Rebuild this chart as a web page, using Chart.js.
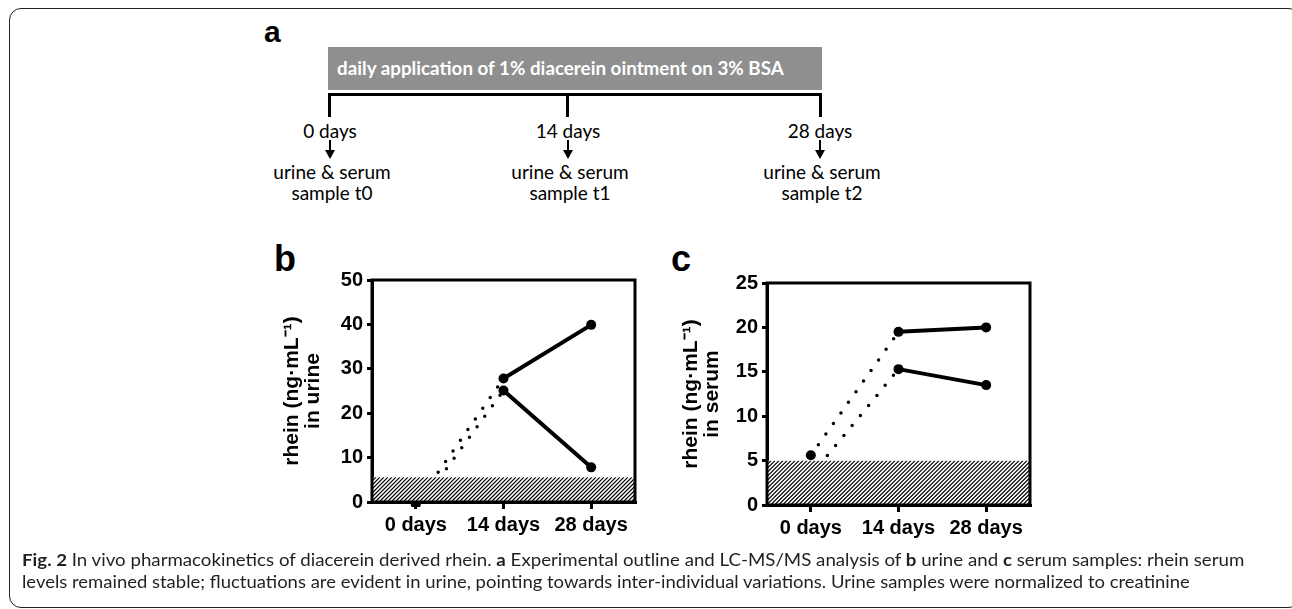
<!DOCTYPE html>
<html>
<head>
<meta charset="utf-8">
<script src="https://cdn.jsdelivr.net/npm/chart.js@4/dist/chart.umd.min.js"></script>
<style>
	body { margin: 0; width: 1292px; height: 609px; background: #fff; position: relative; overflow: hidden; font-family: Lato, "Open Sans", sans-serif; color: #000; }
	.abs { position: absolute; white-space: nowrap; }
	#frame { left: 9px; top: 8px; width: 1292px; height: 600px; border: 1.5px solid #222; border-radius: 12px; box-sizing: border-box; }
	.letter { font-family: "Liberation Sans", Arial, sans-serif; font-weight: bold; line-height: 1; }
	#bar { left: 328px; top: 47px; width: 494px; height: 43px; background: #8f8f8f; }
	#barText { left: 337px; top: 59px; color: #fff; font-weight: bold; font-size: 18px; line-height: 1; transform-origin: left center; }
	#bracket { left: 328px; top: 93px; width: 494px; height: 3px; background: #000; }
	.btick { top: 93px; width: 3px; height: 24px; background: #000; }
	.lbl { font-size: 19px; line-height: 1; transform: translateX(-50%); }
	.stem { width: 2px; height: 12px; background: #000; top: 140px; transform: translateX(-50%); }
	.head { top: 150px; width: 0; height: 0; border-left: 5px solid transparent; border-right: 5px solid transparent; border-top: 9px solid #000; transform: translateX(-50%); }
	.cap { left: 22px; font-size: 17.5px; line-height: 1; color: #231f20; transform-origin: left center; }
	canvas { position: absolute; }
</style>
</head>
<body>
<div id="frame" class="abs"></div>

<div class="abs letter" style="left:264px;top:17px;font-size:30px">a</div>
<div id="bar" class="abs"></div>
<div id="barText" class="abs fit" data-w="447">daily application of 1% diacerein ointment on 3% BSA</div>
<div id="bracket" class="abs"></div>
<div class="abs btick" style="left:328px"></div>
<div class="abs btick" style="left:566px"></div>
<div class="abs btick" style="left:819px"></div>

<div class="abs lbl" style="left:330px;top:121px">0 days</div>
<div class="abs lbl" style="left:568px;top:121px">14 days</div>
<div class="abs lbl" style="left:820px;top:121px">28 days</div>
<div class="abs stem" style="left:330px"></div>
<div class="abs stem" style="left:568px"></div>
<div class="abs stem" style="left:820px"></div>
<div class="abs head" style="left:330px"></div>
<div class="abs head" style="left:568px"></div>
<div class="abs head" style="left:820px"></div>
<div class="abs lbl" style="left:332px;top:162px">urine &amp; serum</div>
<div class="abs lbl" style="left:570px;top:162px">urine &amp; serum</div>
<div class="abs lbl" style="left:822px;top:162px">urine &amp; serum</div>
<div class="abs lbl" style="left:332px;top:183px">sample t0</div>
<div class="abs lbl" style="left:570px;top:183px">sample t1</div>
<div class="abs lbl" style="left:822px;top:183px">sample t2</div>

<div class="abs letter" style="left:274px;top:241px;font-size:36px">b</div>
<div class="abs letter" style="left:671px;top:241px;font-size:36px">c</div>

<canvas id="urineChart" width="410" height="310" style="left:250px;top:240px"></canvas>
<canvas id="serumChart" width="410" height="310" style="left:645px;top:243px"></canvas>

<div class="abs cap fit" data-w="1222" style="top:551px"><b>Fig. 2</b> In vivo pharmacokinetics of diacerein derived rhein. <b>a</b> Experimental outline and LC-MS/MS analysis of <b>b</b> urine and <b>c</b> serum samples: rhein serum</div>
<div class="abs cap fit" data-w="1168" style="top:573px">levels remained stable; fluctuations are evident in urine, pointing towards inter-individual variations. Urine samples were normalized to creatinine</div>

<script>
const timepoints = ["0 days", "14 days", "28 days"];

// urine, normalized to creatinine (ng/mL)
const urineA = [-0.5, 27.8, 39.9];
const urineB = [-2, 25.1, 7.8];
const urineLOD = 5.6;
const urineTicks = { max: 50, step: 10 };

// serum (ng/mL)
const serumA = [5.6, 19.5, 20.0];
const serumB = [3.3, 15.3, 13.5];
const serumLOD = 5;
const serumTicks = { max: 25, step: 5 };

const axisFont = { family: "'Liberation Sans', Arial, sans-serif", weight: "bold", size: 20 };

// hatched "below LOD" band + closed plot frame
const frameAndHatch = {
	id: "frameAndHatch",
	afterDatasetsDraw(chart, args, opts) {
		const { ctx, chartArea: a, scales: { y } } = chart;
		const top = y.getPixelForValue(opts.lod);
		const h = a.bottom - top;
		ctx.save();
		ctx.beginPath();
		ctx.rect(a.left, top, a.right - a.left, h);
		ctx.clip();
		ctx.fillStyle = "#fff";
		ctx.fillRect(a.left, top, a.right - a.left, h);
		ctx.strokeStyle = "#000";
		ctx.lineWidth = 1.2;
		ctx.beginPath();
		for (let x = a.left - h; x < a.right + 4; x += 4) {
			ctx.moveTo(x, a.bottom);
			ctx.lineTo(x + h, top);
		}
		ctx.stroke();
		ctx.restore();
	},
	afterDraw(chart) {
		const { ctx, chartArea: a } = chart;
		ctx.save();
		ctx.strokeStyle = "#000";
		ctx.lineWidth = 3;
		ctx.strokeRect(a.left, a.top, a.right - a.left, a.bottom - a.top);
		ctx.restore();
	},
};

const dotted = ctx => (ctx.p0DataIndex === 0 ? [0, 13] : []);
const segWidth = ctx => (ctx.p0DataIndex === 0 ? 3.5 : 4);

const lineSet = data => ({
	data,
	borderColor: "#000",
	backgroundColor: "#000",
	borderWidth: 4,
	borderCapStyle: "round",
	pointRadius: 5,
	pointBorderWidth: 0,
	pointBackgroundColor: "#000",
	clip: { left: false, right: false, top: 0, bottom: 5 },
	segment: { borderDash: dotted, borderWidth: segWidth },
});

const makeChart = (id, series, lod, ticks, title, titlePad) => {
	new Chart(document.getElementById(id), {
		type: "line",
		data: {
			labels: timepoints,
			datasets: series.map(lineSet),
		},
		plugins: [frameAndHatch],
		options: {
			responsive: false,
			animation: false,
			events: [],
			layout: { padding: { top: 40, right: 25, left: 0, bottom: 0 } },
			plugins: {
				legend: { display: false },
				tooltip: { enabled: false },
				frameAndHatch: { lod },
			},
			scales: {
				x: {
					type: "category",
					offset: true,
					afterFit: s => { s.height = 48; },
					grid: { offset: false, drawOnChartArea: false, tickLength: 7, lineWidth: 3, color: "#000" },
					border: { display: true, color: "#000", width: 3 },
					ticks: { color: "#000", font: axisFont, padding: 4, maxRotation: 0 },
				},
				y: {
					min: 0,
					max: ticks.max,
					afterFit: s => { s.width = 122; },
					grid: { drawOnChartArea: false, tickLength: 5, lineWidth: 3, color: "#000" },
					border: { display: true, color: "#000", width: 3 },
					ticks: { stepSize: ticks.step, color: "#000", font: axisFont, padding: 4 },
					title: {
						display: true,
						text: title,
						color: "#000",
						font: { ...axisFont, size: 21, lineHeight: 1.0 },
						padding: { top: titlePad, bottom: 0 },
					},
				},
			},
		},
	});
};

makeChart("urineChart", [urineA, urineB], urineLOD, urineTicks, ["rhein (ng·mL⁻¹)", "in urine"], 32);
makeChart("serumChart", [serumA, serumB], serumLOD, serumTicks, ["rhein (ng·mL⁻¹)", "in serum"], 36);

// squeeze text boxes to the widths measured on the figure
document.querySelectorAll(".fit").forEach(el => {
	const k = Number(el.dataset.w) / el.scrollWidth;
	el.style.transform = `scaleX(${k})`;
});
</script>
</body>
</html>
